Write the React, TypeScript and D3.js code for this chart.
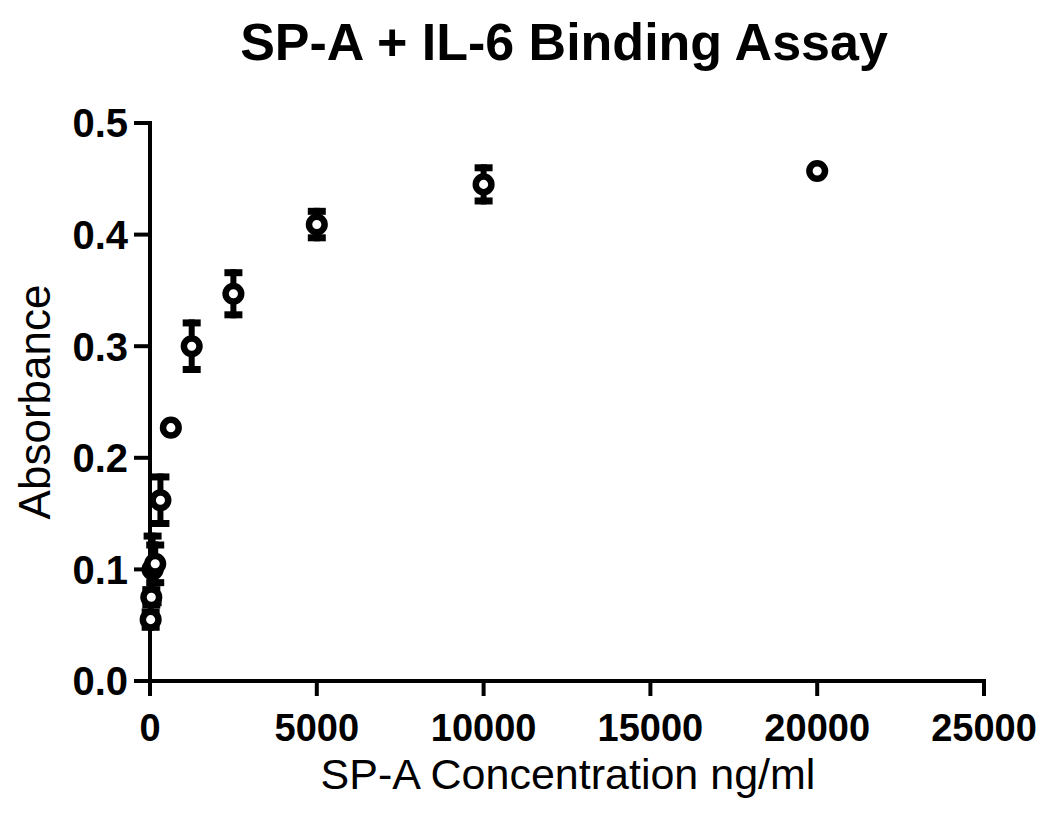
import React from "react";
import * as d3 from "d3";

const concentrations = [19.5, 39, 78, 156, 312.5, 625, 1250, 2500, 5000, 10000, 20000];
const absorbance = [0.055, 0.075, 0.1, 0.105, 0.162, 0.227, 0.300, 0.347, 0.409, 0.445, 0.457];
const errors = [0.01, 0.01, 0.033, 0.02, 0.024, 0.004, 0.024, 0.022, 0.015, 0.018, 0.004];
const xTicks = [0, 5000, 10000, 15000, 20000, 25000];
const yTicks = [0, 0.1, 0.2, 0.3, 0.4, 0.5];

const W = 1050, H = 828;
const left = 150, right = 984, top = 123, bottom = 681;
const FONT = "Liberation Sans, Arial, sans-serif";

export default function App() {
  const x = d3.scaleLinear().domain([0, 25000]).range([left, right]);
  const y = d3.scaleLinear().domain([0, 0.5]).range([bottom, top]);
  return (
    <svg width={W} height={H} style={{ position: "absolute", left: 0, top: 0, background: "#fff" }}>
      <rect width={W} height={H} fill="#fff" />
      <text x={564} y={60} textAnchor="middle" fontFamily={FONT} fontWeight="bold" fontSize={52}>
        SP-A + IL-6 Binding Assay
      </text>
      {/* axes */}
      <line x1={left} x2={left} y1={top - 2} y2={bottom + 15} stroke="#000" strokeWidth={4} />
      <line x1={left - 2} x2={right + 2} y1={bottom} y2={bottom} stroke="#000" strokeWidth={4} />
      {yTicks.map((t) => (
        <g key={"y" + t}>
          <line x1={left - 16} x2={left} y1={y(t)} y2={y(t)} stroke="#000" strokeWidth={4} />
          <text x={left - 22} y={y(t)} dy="0.36em" textAnchor="end" fontFamily={FONT} fontWeight="bold" fontSize={40}>
            {t.toFixed(1)}
          </text>
        </g>
      ))}
      {xTicks.map((t) => (
        <g key={"x" + t}>
          <line x1={x(t)} x2={x(t)} y1={bottom} y2={bottom + 15} stroke="#000" strokeWidth={4} />
          <text x={x(t)} y={741} textAnchor="middle" fontFamily={FONT} fontWeight="bold" fontSize={38}>
            {t}
          </text>
        </g>
      ))}
      <text
        transform={`translate(50, ${(top + bottom) / 2}) rotate(-90)`}
        textAnchor="middle"
        fontFamily={FONT}
        fontSize={44}
      >
        Absorbance
      </text>
      <text x={568} y={789} textAnchor="middle" fontFamily={FONT} fontSize={43}>
        SP-A Concentration ng/ml
      </text>
      {/* error bars */}
      {concentrations.map((c, i) => {
        const cx = x(c);
        const y1 = y(absorbance[i] + errors[i]);
        const y2 = y(absorbance[i] - errors[i]);
        return (
          <g key={"e" + i}>
            <line x1={cx} x2={cx} y1={y1} y2={y2} stroke="#000" strokeWidth={6} />
            <line x1={cx - 9} x2={cx + 9} y1={y1 + 3.5} y2={y1 + 3.5} stroke="#000" strokeWidth={7} />
            <line x1={cx - 9} x2={cx + 9} y1={y2 - 3.5} y2={y2 - 3.5} stroke="#000" strokeWidth={7} />
          </g>
        );
      })}
      {concentrations.map((c, i) => (
        <circle key={"p" + i} cx={x(c)} cy={y(absorbance[i])} r={7.8} fill="#fff" stroke="#000" strokeWidth={6.5} />
      ))}
    </svg>
  );
}
